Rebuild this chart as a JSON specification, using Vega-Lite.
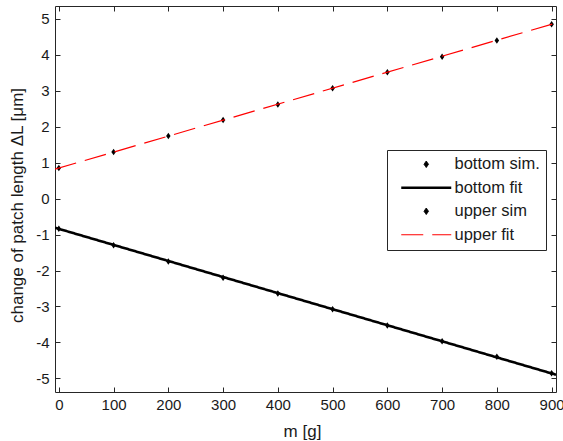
{
  "$schema": "https://vega.github.io/schema/vega-lite/v6.json",
  "width": 501,
  "height": 386,
  "autosize": {"type": "none"},
  "padding": {"left": 55, "top": 6, "right": 7, "bottom": 49},
  "background": "white",
  "config": {
    "font": "Liberation Sans",
    "view": {"stroke": "#262626", "strokeWidth": 1},
    "axis": {
      "domain": false,
      "grid": false,
      "ticks": true,
      "tickColor": "#262626",
      "tickSize": -5,
      "tickWidth": 1,
      "labelFont": "Liberation Sans",
      "labelFontSize": 15,
      "labelColor": "#1a1a1a",
      "titleFont": "Liberation Sans",
      "titleFontSize": 17,
      "titleFontWeight": "normal",
      "titleColor": "#1a1a1a"
    },
    "legend": {
      "title": null,
      "labelFont": "Liberation Sans",
      "labelFontSize": 16.5,
      "labelColor": "#1a1a1a",
      "symbolOffset": 25,
      "labelOffset": 20,
      "padding": 6,
      "rowPadding": 6.5,
      "strokeColor": "#262626",
      "fillColor": "white",
      "symbolSize": 100
    }
  },
  "datasets": {
    "sims": [
      {"series": "bottom sim.", "m": 0, "dL": -0.84},
      {"series": "bottom sim.", "m": 100, "dL": -1.3},
      {"series": "bottom sim.", "m": 200, "dL": -1.75},
      {"series": "bottom sim.", "m": 300, "dL": -2.2},
      {"series": "bottom sim.", "m": 400, "dL": -2.64},
      {"series": "bottom sim.", "m": 500, "dL": -3.08},
      {"series": "bottom sim.", "m": 600, "dL": -3.53},
      {"series": "bottom sim.", "m": 700, "dL": -3.97},
      {"series": "bottom sim.", "m": 800, "dL": -4.4},
      {"series": "bottom sim.", "m": 900, "dL": -4.86},
      {"series": "upper sim", "m": 0, "dL": 0.85},
      {"series": "upper sim", "m": 100, "dL": 1.3},
      {"series": "upper sim", "m": 200, "dL": 1.74},
      {"series": "upper sim", "m": 300, "dL": 2.19},
      {"series": "upper sim", "m": 400, "dL": 2.62},
      {"series": "upper sim", "m": 500, "dL": 3.07},
      {"series": "upper sim", "m": 600, "dL": 3.52},
      {"series": "upper sim", "m": 700, "dL": 3.95},
      {"series": "upper sim", "m": 800, "dL": 4.4},
      {"series": "upper sim", "m": 900, "dL": 4.85}
    ],
    "fits": [
      {"series": "bottom fit", "m": -7, "dL": -0.809},
      {"series": "bottom fit", "m": 908, "dL": -4.899},
      {"series": "upper fit", "m": -7, "dL": 0.819},
      {"series": "upper fit", "m": 908, "dL": 4.888}
    ]
  },
  "layer": [
    {
      "data": {"name": "sims"},
      "mark": {"type": "point", "filled": true, "opacity": 1, "size": 100},
      "encoding": {
        "x": {
          "field": "m", "type": "quantitative",
          "scale": {"domain": [-7, 908], "nice": false, "zero": false},
          "axis": {
            "orient": "bottom", "values": [0, 100, 200, 300, 400, 500, 600, 700, 800, 900],
            "labelPadding": 10, "title": "m [g]",
            "titleX": 247, "titleY": 44, "titleBaseline": "alphabetic", "titleAnchor": null
          }
        },
        "y": {
          "field": "dL", "type": "quantitative",
          "scale": {"domain": [-5.38, 5.36], "nice": false, "zero": false},
          "axis": {
            "orient": "left", "values": [-5, -4, -3, -2, -1, 0, 1, 2, 3, 4, 5],
            "labelPadding": 11, "labelExpr": "'' + datum.value",
            "title": "change of patch length ΔL [μm]",
            "titleX": -38, "titleY": 199, "titleAngle": -90,
            "titleAlign": "center", "titleBaseline": "middle"
          }
        },
        "color": {
          "field": "series", "type": "nominal",
          "scale": {
            "domain": ["bottom sim.", "bottom fit", "upper sim", "upper fit"],
            "range": ["#000000", "#000000", "#000000", "#ff0000"]
          },
          "legend": {
            "orient": "none", "legendX": 332, "legendY": 144,
            "encode": {"symbols": {"update": {
              "fill": {"scale": "color", "field": "value"},
              "stroke": {"scale": "color", "field": "value"}
            }}}
          }
        },
        "shape": {
          "field": "series", "type": "nominal",
          "scale": {
            "domain": ["bottom sim.", "bottom fit", "upper sim", "upper fit"],
            "range": ["M0,-0.65L0.45,0L0,0.65L-0.45,0Z", "M-5,0H5", "M0,-0.65L0.45,0L0,0.65L-0.45,0Z", "M-5,0H5"]
          },
          "legend": {"orient": "none", "legendX": 332, "legendY": 144}
        }
      }
    },
    {
      "data": {"name": "fits"},
      "mark": {"type": "line", "clip": true},
      "encoding": {
        "x": {
          "field": "m", "type": "quantitative",
          "axis": {
            "orient": "top", "values": [0, 100, 200, 300, 400, 500, 600, 700, 800, 900],
            "labels": false, "title": null
          }
        },
        "y": {
          "field": "dL", "type": "quantitative",
          "axis": {
            "orient": "right", "values": [-5, -4, -3, -2, -1, 0, 1, 2, 3, 4, 5],
            "labels": false, "title": null
          }
        },
        "color": {
          "field": "series", "type": "nominal",
          "legend": {"orient": "none", "legendX": 332, "legendY": 144}
        },
        "strokeDash": {
          "field": "series", "type": "nominal",
          "scale": {
            "domain": ["bottom sim.", "bottom fit", "upper sim", "upper fit"],
            "range": [[1, 0], [1, 0], [1, 0], [22, 9]]
          },
          "legend": {"orient": "none", "legendX": 332, "legendY": 144}
        },
        "strokeWidth": {
          "field": "series", "type": "nominal",
          "scale": {
            "type": "ordinal",
            "domain": ["bottom sim.", "bottom fit", "upper sim", "upper fit"],
            "range": [1, 2.6, 1, 1.2]
          },
          "legend": {"orient": "none", "legendX": 332, "legendY": 144}
        }
      }
    }
  ],
  "resolve": {"axis": {"x": "independent", "y": "independent"}}
}
